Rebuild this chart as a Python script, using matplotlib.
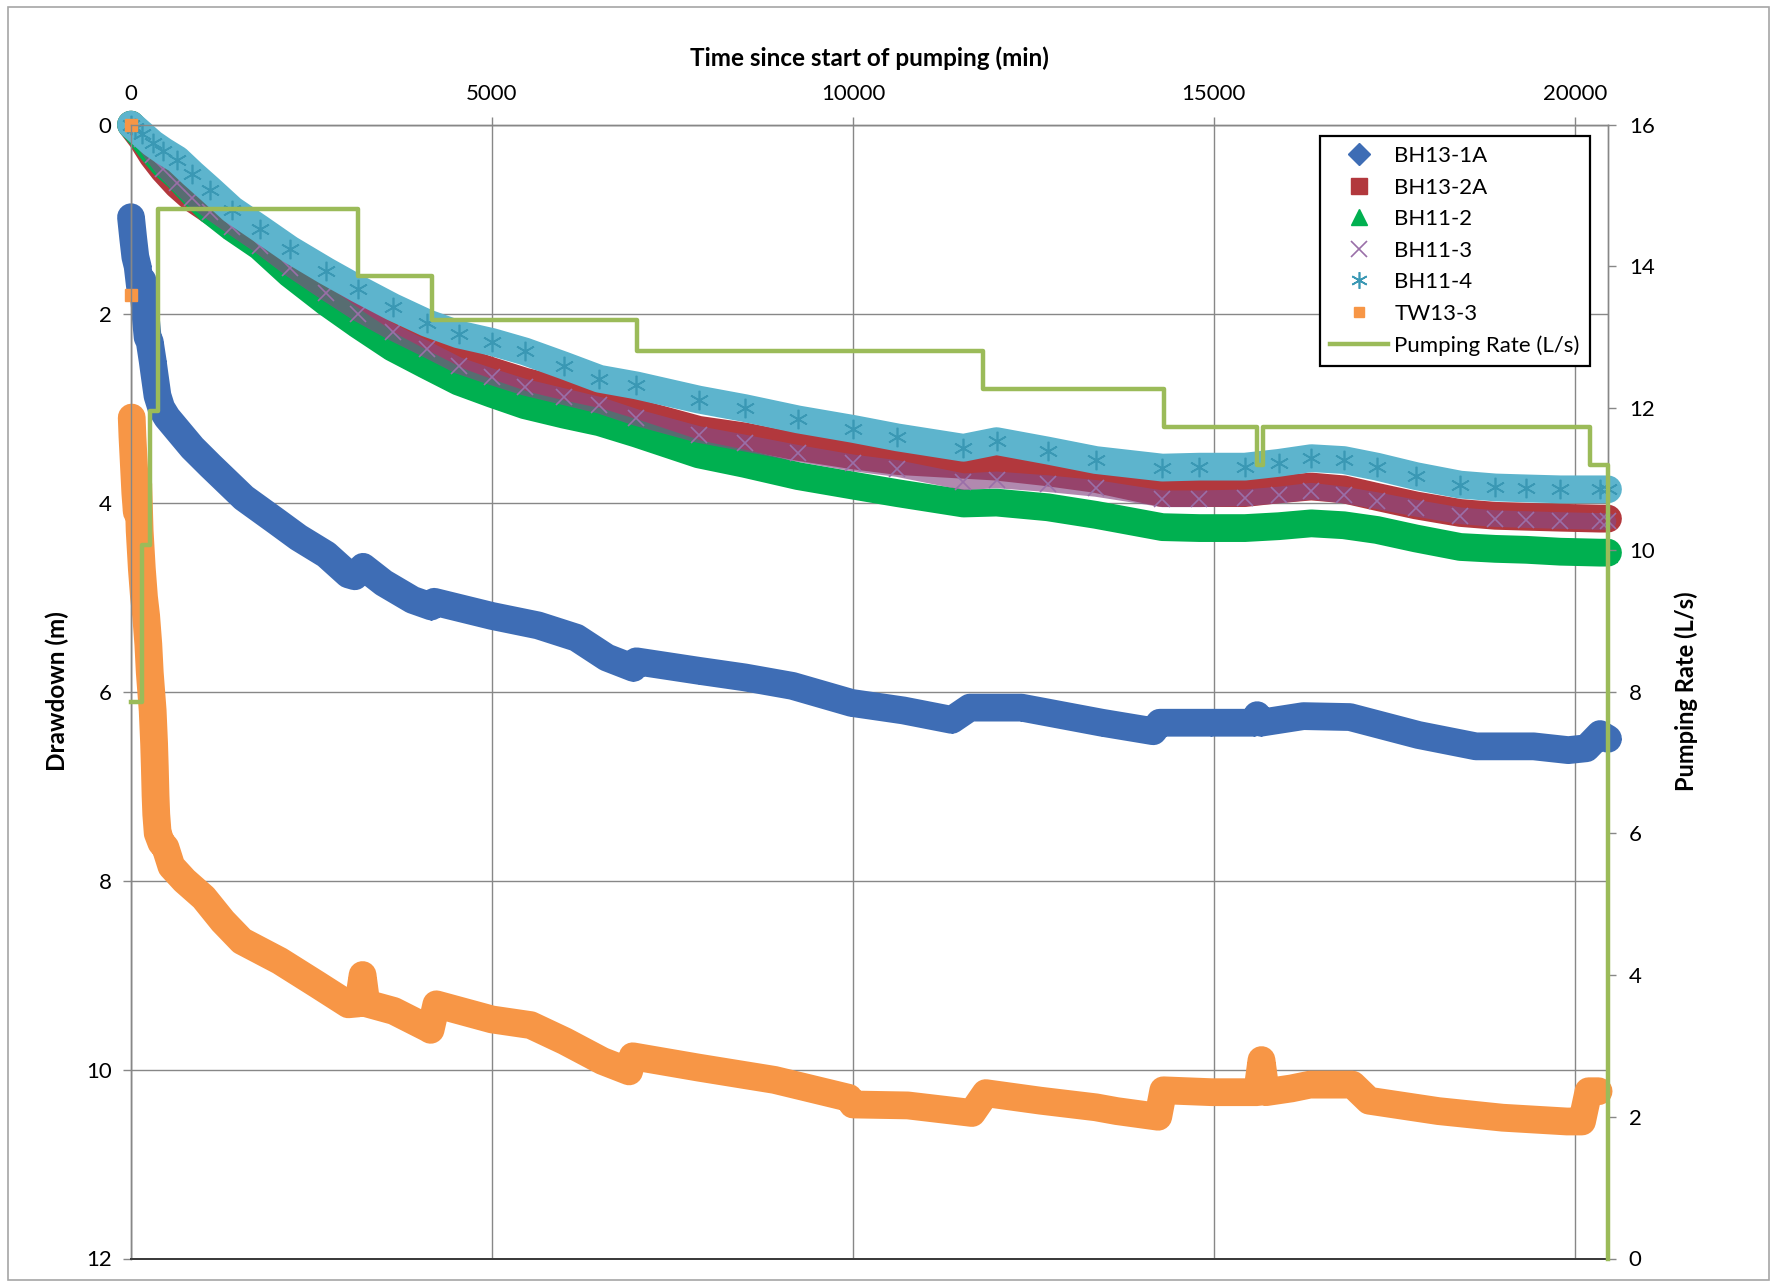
import matplotlib.pyplot as plt
from matplotlib.lines import Line2D
from matplotlib.patches import Rectangle

plt.rcParams['font.family'] = ['Lato', 'DejaVu Sans']

# Observation times (min) shared by the four upper-response wells
obs_time = [0, 60, 150, 298, 450, 642, 850, 1100, 1400, 1785,
            2200, 2705, 3150, 3623, 4100, 4537, 5000, 5455, 6000, 6489,
            7000, 7864, 8500, 9240, 10000, 10615, 11532, 11990, 12700, 13366,
            14287, 14800, 15430, 15900, 16350, 16800, 17260, 17800, 18413, 18900,
            19330, 19800, 20345, 20460]

# Drawdown (m)
bh13_2a = [0.00, 0.06, 0.15, 0.33, 0.48, 0.64, 0.78, 0.91, 1.06, 1.24,
           1.47, 1.72, 1.94, 2.15, 2.33, 2.49, 2.61, 2.72, 2.82, 2.91,
           3.05, 3.23, 3.30, 3.41, 3.50, 3.56, 3.60, 3.62, 3.68, 3.75,
           3.90, 3.90, 3.90, 3.86, 3.83, 3.86, 3.94, 4.03, 4.11, 4.14,
           4.15, 4.16, 4.17, 4.17]
bh11_2 = [0.00, 0.05, 0.13, 0.28, 0.42, 0.55, 0.72, 0.91, 1.09, 1.29,
          1.58, 1.88, 2.12, 2.36, 2.55, 2.72, 2.85, 2.97, 3.07, 3.15,
          3.27, 3.49, 3.59, 3.72, 3.82, 3.90, 4.01, 4.00, 4.05, 4.13,
          4.26, 4.27, 4.27, 4.25, 4.22, 4.24, 4.29, 4.38, 4.47, 4.49,
          4.50, 4.52, 4.53, 4.53]
bh11_3 = [0.00, 0.06, 0.15, 0.32, 0.47, 0.62, 0.78, 0.92, 1.08, 1.28,
          1.52, 1.78, 2.00, 2.20, 2.38, 2.55, 2.67, 2.78, 2.88, 2.97,
          3.10, 3.28, 3.37, 3.48, 3.58, 3.64, 3.78, 3.76, 3.80, 3.85,
          3.96, 3.96, 3.95, 3.92, 3.88, 3.92, 3.98, 4.06, 4.14, 4.17,
          4.18, 4.19, 4.20, 4.20]
bh11_4 = [0.00, 0.04, 0.10, 0.20, 0.28, 0.37, 0.52, 0.69, 0.90, 1.10,
          1.32, 1.55, 1.74, 1.93, 2.10, 2.22, 2.30, 2.40, 2.55, 2.69,
          2.76, 2.91, 3.00, 3.12, 3.22, 3.31, 3.42, 3.35, 3.45, 3.55,
          3.63, 3.62, 3.62, 3.58, 3.53, 3.55, 3.62, 3.72, 3.81, 3.84,
          3.85, 3.86, 3.86, 3.86]

bh13_1a_time = [0, 30, 60, 92, 130, 160, 200, 230, 260, 300,
                323, 367, 420, 500, 642, 850, 1100, 1563, 2016, 2320,
                2705, 3010, 3100, 3215, 3500, 3900, 4160, 4200, 5000, 5640,
                6170, 6590, 6960, 7000, 7863, 8500, 9163, 9980, 10700, 11370,
                11620, 12335, 13450, 14160, 14250, 14960, 15550, 15600, 15650, 16240,
                16885, 17835, 18630, 19430, 19910, 20160, 20350, 20460]
bh13_1a = [0.98, 1.20, 1.40, 1.50, 1.75, 1.65, 2.00, 2.25, 2.30, 2.50,
           2.63, 2.87, 3.00, 3.10, 3.23, 3.42, 3.61, 3.95, 4.20, 4.37,
           4.55, 4.76, 4.78, 4.68, 4.85, 5.03, 5.10, 5.05, 5.20, 5.30,
           5.43, 5.64, 5.75, 5.68, 5.78, 5.85, 5.94, 6.12, 6.20, 6.30,
           6.17, 6.17, 6.33, 6.42, 6.33, 6.33, 6.33, 6.25, 6.33, 6.26,
           6.27, 6.46, 6.58, 6.58, 6.62, 6.60, 6.45, 6.50]

tw13_3_time = [0, 5, 10, 20, 40, 60, 80, 100, 120, 150,
               180, 210, 240, 260, 280, 300, 320, 330, 340, 350,
               370, 420, 477, 560, 740, 1007, 1271, 1536, 2060, 2580,
               3010, 3150, 3208, 3260, 3640, 4106, 4150, 4230, 5000, 5537,
               6010, 6530, 6900, 6950, 7863, 8915, 9944, 10000, 10760, 11650,
               11840, 12600, 13366, 13655, 14230, 14300, 14970, 15600, 15660, 15720,
               16075, 16330, 16920, 17150, 18110, 19000, 19890, 20100, 20190, 20330]
tw13_3 = [0.00, 1.80, 3.10, 3.30, 3.60, 3.90, 4.10, 3.80, 4.30, 4.70,
          5.00, 5.20, 5.50, 5.80, 6.00, 6.20, 6.55, 6.80, 7.10, 7.30,
          7.50, 7.60, 7.65, 7.85, 8.00, 8.18, 8.43, 8.64, 8.85, 9.10,
          9.31, 9.30, 9.00, 9.30, 9.38, 9.56, 9.58, 9.31, 9.47, 9.53,
          9.70, 9.91, 10.02, 9.86, 9.98, 10.11, 10.30, 10.37, 10.38, 10.46,
          10.25, 10.33, 10.40, 10.44, 10.50, 10.22, 10.24, 10.24, 9.90, 10.24,
          10.20, 10.16, 10.16, 10.33, 10.44, 10.51, 10.55, 10.55, 10.23, 10.23]

# Pumping rate steps (L/s), each value holds until the next time
rate_time = [0, 150, 270, 370, 3143, 4170, 7013, 11798, 14308, 15600, 15680, 20207, 20460]
rate_lps = [7.85, 10.07, 11.96, 14.81, 13.87, 13.24, 12.80, 12.27, 11.73, 11.20, 11.73, 11.20, 0.0]

X_MAX = 20460

# label, times, drawdown, band colour, band width, band alpha, first banded point,
# marker, marker colour, marker size, marker edge width
wells = [
    ("BH13-1A", bh13_1a_time, bh13_1a, "#3E6DB5", 20, 1.0, 0, "D", "#3E6DB5", 13, 1.0),
    ("BH13-2A", obs_time, bh13_2a, "#B2383D", 20, 1.0, 0, "s", "#B2383D", 12, 1.0),
    ("BH11-2", obs_time, bh11_2, "#00B050", 20, 1.0, 0, "^", "#00B050", 13, 1.0),
    ("BH11-3", obs_time, bh11_3, "#874A84", 12, 0.65, 0, "x", "#9A6FA8", 11, 1.2),
    ("BH11-4", obs_time, bh11_4, "#5DB4CD", 20, 1.0, 0, (6, 2, 0), "#3A98B4", 14, 1.2),
    ("TW13-3", tw13_3_time, tw13_3, "#F79646", 20, 1.0, 2, "s", "#F79646", 9, 1.0),
]
legend_ms = {"BH13-1A": 11, "BH13-2A": 11, "BH11-2": 12, "BH11-3": 12,
             "BH11-4": 12, "TW13-3": 7}

grid_col = "#878787"

fig = plt.figure(figsize=(17.76, 12.86), dpi=100)
ax = fig.add_axes([131 / 1776, 1 - 1258.5 / 1286, (1608 - 131) / 1776, (1258.5 - 124.6) / 1286])
ax2 = ax.twinx()

handles = []
for i, (name, t, d, band, lw, alpha, start, mk, mcol, ms, mew) in enumerate(wells):
    ax.plot(t[start:], d[start:], color=band, lw=lw, alpha=alpha, solid_joinstyle="round",
            solid_capstyle="round", zorder=2 + i, clip_on=False)
    ax.plot(t, d, ls="none", marker=mk, color=mcol, ms=ms, mew=mew, zorder=2 + i,
            clip_on=False)
    handles.append(Line2D([], [], ls="none", marker=mk, color=mcol,
                          ms=legend_ms[name], mew=mew, label=name))

ax2.plot(rate_time, rate_lps, drawstyle="steps-post", color="#9BBB59", lw=3.2,
         clip_on=False, zorder=3)
handles.append(Line2D([], [], color="#9BBB59", lw=3.2, label="Pumping Rate (L/s)"))

# primary axis: drawdown increases downward, time axis on top
ax.set_xlim(0, X_MAX)
ax.set_ylim(12, 0)
ax.set_xticks([0, 5000, 10000, 15000, 20000])
ax.set_yticks(range(0, 13, 2))
ax.xaxis.tick_top()
ax.xaxis.set_label_position("top")
ax.grid(True, color=grid_col, lw=1.0)
ax.set_axisbelow(True)
ax.tick_params(axis="x", which="both", top=True, bottom=False, direction="out",
               length=6, width=1, color=grid_col, labelsize=16, pad=9)
ax.tick_params(axis="y", direction="out", length=6, width=1, color=grid_col,
               labelsize=16, pad=8)

ax.set_xlabel("Time since start of pumping (min)", fontsize=17.5, fontweight="bold")
ax.xaxis.set_label_coords(0.5, 1.052)
ax.set_ylabel("Drawdown (m)", fontsize=17.5, fontweight="bold")
ax.yaxis.set_label_coords(-0.042, 0.5)

# secondary axis: pumping rate
ax2.set_ylim(0, 16)
ax2.set_yticks(range(0, 17, 2))
ax2.tick_params(axis="y", direction="out", length=6, width=1, color=grid_col,
                labelsize=16, pad=9)
ax2.set_ylabel("Pumping Rate (L/s)", fontsize=17, fontweight="bold", rotation=90)
ax2.yaxis.set_label_coords(1.045, 0.5)

for a in (ax, ax2):
    for side in ("top", "left", "right"):
        a.spines[side].set_color(grid_col)
        a.spines[side].set_linewidth(1.0)
    a.spines["bottom"].set_color("#3C3C3C")
    a.spines["bottom"].set_linewidth(1.4)

leg = ax2.legend(handles=handles, loc="upper left",
                 bbox_to_anchor=(1320 / 1776, 1 - 136 / 1286),
                 bbox_transform=fig.transFigure, borderaxespad=0,
                 fontsize=16, frameon=True, fancybox=False, edgecolor="black",
                 framealpha=1, labelspacing=0.52, handlelength=2.6,
                 handletextpad=0.3, borderpad=0.45)
leg.get_frame().set_linewidth(1.6)
leg.set_zorder(20)

fig.patches.append(Rectangle((0.0043, 0.0047), 0.9917, 0.9901, transform=fig.transFigure,
                             fill=False, edgecolor="#A6A6A6", lw=1.2))

fig.savefig("out.png", dpi=100)
